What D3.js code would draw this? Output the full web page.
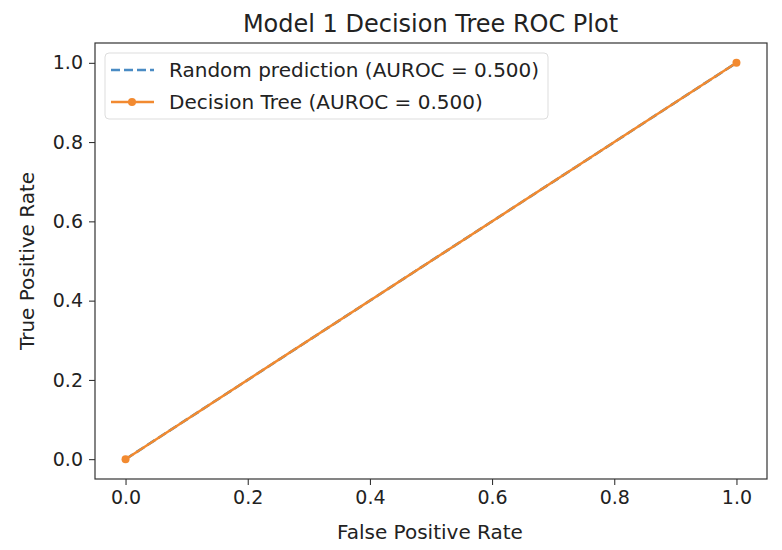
<!DOCTYPE html>
<html><head><meta charset="utf-8">
<script src="https://cdn.jsdelivr.net/npm/d3@7"></script>
<style>body{margin:0;background:#fff;font-family:"DejaVu Sans",sans-serif;}</style>
</head><body><svg id="c" width="782" height="550"></svg>
<script>
var randomFpr = [0, 1];
var randomTpr = [0, 1];
var treeFpr = [0, 1];
var treeTpr = [0, 1];
var ticks = [0, 0.2, 0.4, 0.6, 0.8, 1.0];
var legendLabels = ["Random prediction (AUROC = 0.500)", "Decision Tree (AUROC = 0.500)"];

var svg = d3.select("#c");
var L = 95, R = 767, T = 43, B = 479;
var x = d3.scaleLinear().domain([-0.05, 1.05]).range([L, R]);
var y = d3.scaleLinear().domain([-0.05, 1.05]).range([B, T]);

svg.append("g").attr("transform", "translate(0," + B + ")")
    .call(d3.axisBottom(x).tickValues(ticks).tickFormat(d3.format(".1f")).tickSize(6).tickPadding(6))
    .call(function (g) { g.select(".domain").remove(); });
svg.append("g").attr("transform", "translate(" + L + ",0)")
    .call(d3.axisLeft(y).tickValues(ticks).tickFormat(d3.format(".1f")).tickSize(6).tickPadding(6))
    .call(function (g) { g.select(".domain").remove(); });
svg.selectAll(".tick text").attr("font-size", 19).attr("fill", "#222").attr("font-family", "DejaVu Sans");
svg.selectAll(".tick line").attr("stroke", "#222");

var line = d3.line().x(function (d) { return x(d[0]); }).y(function (d) { return y(d[1]); });
svg.append("path").attr("d", line(d3.zip(randomFpr, randomTpr)))
    .attr("fill", "none").attr("stroke", "#1f77b4").attr("stroke-width", 2.5).attr("stroke-dasharray", "9,4");
svg.append("path").attr("d", line(d3.zip(treeFpr, treeTpr)))
    .attr("fill", "none").attr("stroke", "#f28a30").attr("stroke-width", 2.5);
svg.selectAll(".pt").data(d3.zip(treeFpr, treeTpr)).enter().append("circle")
    .attr("cx", function (d) { return x(d[0]); }).attr("cy", function (d) { return y(d[1]); })
    .attr("r", 4).attr("fill", "#f28a30");

svg.append("rect").attr("x", L).attr("y", T).attr("width", R - L).attr("height", B - T)
    .attr("fill", "none").attr("stroke", "#333").attr("stroke-width", 1.2);

var lg = svg.append("g").attr("transform", "translate(105,53)");
lg.append("rect").attr("width", 443).attr("height", 66).attr("rx", 4)
    .attr("fill", "#fff").attr("fill-opacity", 0.8).attr("stroke", "#ddd");
lg.append("line").attr("x1", 6).attr("x2", 49).attr("y1", 17).attr("y2", 17)
    .attr("stroke", "#4a8bc4").attr("stroke-width", 2.5).attr("stroke-dasharray", "9,4");
lg.append("line").attr("x1", 6).attr("x2", 49).attr("y1", 49).attr("y2", 49)
    .attr("stroke", "#f28a30").attr("stroke-width", 2.5);
lg.append("circle").attr("cx", 27).attr("cy", 49).attr("r", 4).attr("fill", "#f28a30");
lg.selectAll("text.l").data(legendLabels).enter().append("text")
    .attr("x", 64).attr("y", function (d, i) { return 24 + i * 32; })
    .attr("font-size", 20).attr("fill", "#222").text(function (d) { return d; });

svg.append("text").attr("x", (L + R) / 2 - 0.5).attr("y", 32).attr("text-anchor", "middle")
    .attr("font-size", 24).attr("fill", "#222").text("Model 1 Decision Tree ROC Plot");
svg.append("text").attr("x", (L + R) / 2 - 1).attr("y", 539).attr("text-anchor", "middle")
    .attr("font-size", 20).attr("fill", "#222").text("False Positive Rate");
svg.append("text").attr("transform", "translate(34," + (T + B) / 2 + ") rotate(-90)")
    .attr("text-anchor", "middle").attr("font-size", 20).attr("fill", "#222").text("True Positive Rate");
</script></body></html>
